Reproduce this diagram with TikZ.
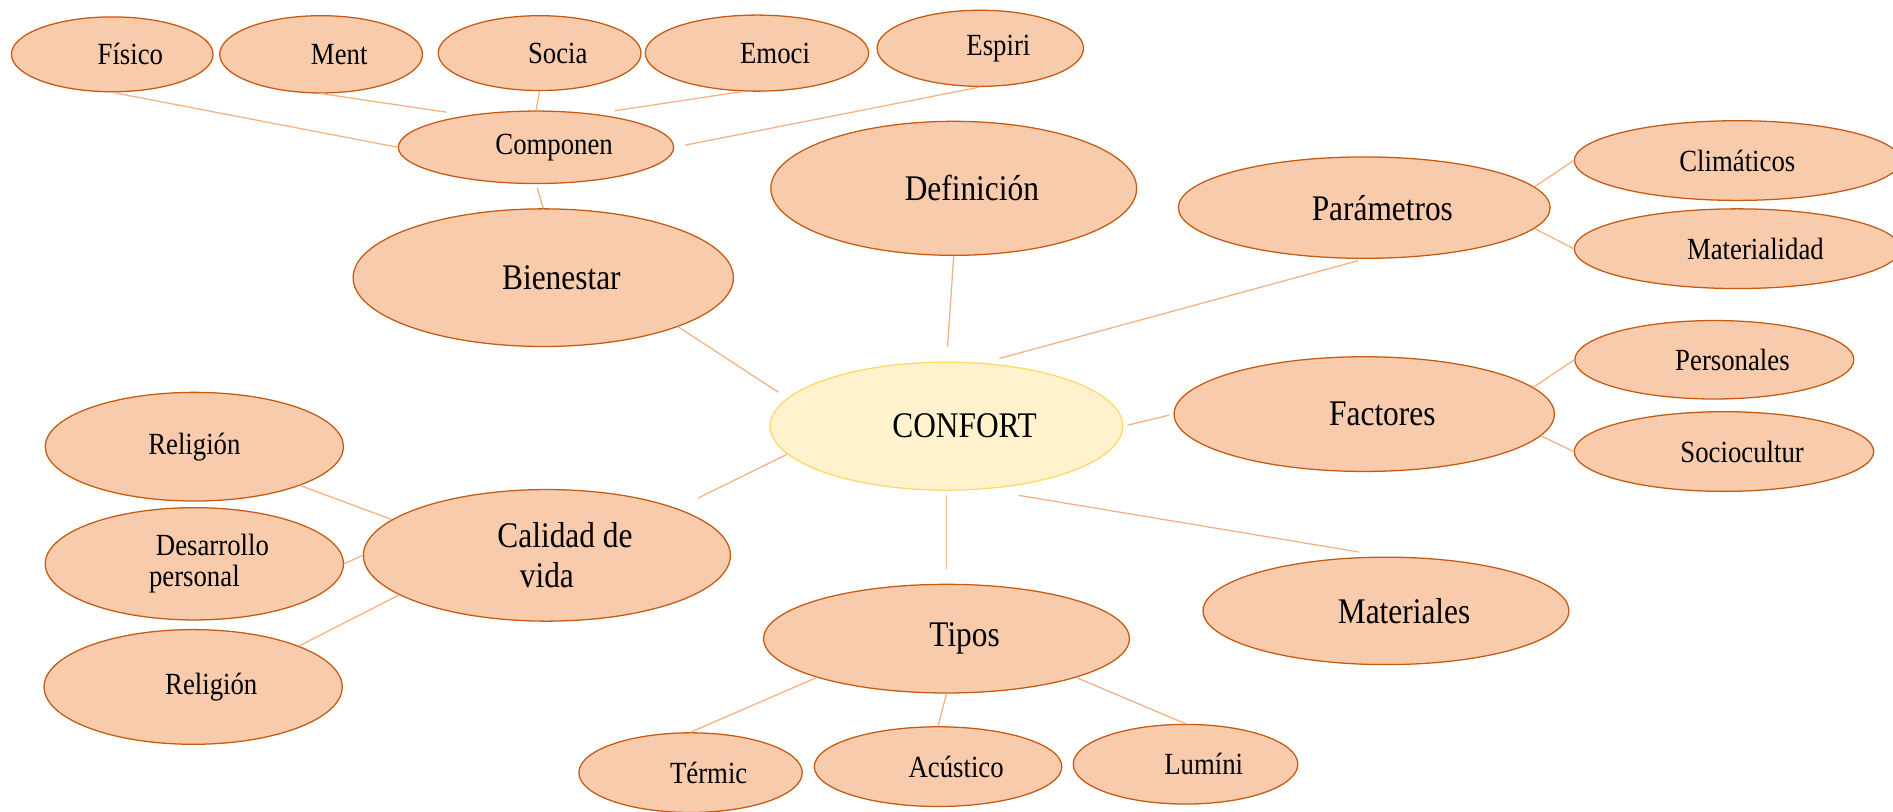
\documentclass[tikz,border=0pt]{standalone}
\usepackage{fontspec}
\setmainfont{Liberation Serif}[FakeStretch=0.87]
\usetikzlibrary{shapes.geometric,positioning}
\definecolor{bubfill}{HTML}{F8CBAD}
\definecolor{bubline}{HTML}{C55A11}
\definecolor{rootfill}{HTML}{FFF2CC}
\definecolor{rootline}{HTML}{FFD966}
\definecolor{linkcol}{HTML}{F4B183}

\begin{document}
\begin{tikzpicture}[x=0.2mm,y=-0.2mm,on grid,
    bub/.style={ellipse,draw=bubline,fill=bubfill,line width=0.6pt,inner sep=0pt,align=center,
      execute at begin node={\hspace*{#1}}},
    bub/.default=6mm,
    bigtxt/.style={font=\fontsize{17}{19}\selectfont},
    smalltxt/.style={font=\fontsize{14.5}{14.5}\selectfont},
    sz/.style 2 args={minimum width=#1mm,minimum height=#2mm},
    link/.style={draw=linkcol,line width=0.6pt}]
\useasboundingbox (0,0) rectangle (1568,672);

% centro y ramas
\node[bub,bigtxt,sz={58.4}{21.2},draw=rootline,fill=rootfill] (conf) at (784,353) {CONFORT};
\node[bub,bigtxt,sz={60.6}{22.2}] (defi) [above right=39.4mm and 1.2mm of conf] {Definición};
\node[bub,bigtxt,sz={63}{22.8}] (bien) [above left=24.6mm and 66.8mm of conf] {Bienestar};
\node[bub,bigtxt,sz={61.6}{16.8}] (param) [above right=36.2mm and 69.2mm of conf] {Parámetros};
\node[bub,bigtxt,sz={63}{19}] (fact) [above right=2mm and 69.2mm of conf] {Factores};
\node[bub,bigtxt,sz={60.6}{17.8}] (mate) [below right=30.6mm and 72.8mm of conf] {Materiales};
\node[bub,bigtxt,sz={60.6}{18}] (tipos) [below=35.2mm of conf] {Tipos};
\node[bub=0mm,bigtxt,sz={60.8}{21.8}] (cali) [below left=21.4mm and 66.2mm of conf] {\hspace*{6mm}Calidad de\\vida};

% componentes
\node[bub,smalltxt,sz={45.6}{12}] (comp) [above left=21.6mm and 1.2mm of bien] {Componen};
\node[bub,smalltxt,sz={33.4}{12.4}] (fis) [above left=15.4mm and 70.2mm of comp] {Físico};
\node[bub,smalltxt,sz={33.6}{12.8}] (ment) [above left=15.4mm and 35.6mm of comp] {Ment};
\node[bub,smalltxt,sz={33.6}{12.4}] (socia) [above right=15.6mm and 0.6mm of comp] {Socia};
\node[bub,smalltxt,sz={37}{12.6}] (emoci) [above right=15.6mm and 36.6mm of comp] {Emoci};
\node[bub,smalltxt,sz={34.2}{12.6}] (espiri) [above right=16.4mm and 73.6mm of comp] {Espiri};

% parametros y factores
\node[bub=0mm,smalltxt,sz={54}{13.2}] (clim) [above right=7.8mm and 61.8mm of param] {Climáticos};
\node[bub,smalltxt,sz={54}{13.2}] (matd) [below right=6.8mm and 61.8mm of param] {Materialidad};
\node[bub,smalltxt,sz={46.2}{13}] (pers) [above right=9mm and 58mm of fact] {Personales};
\node[bub,smalltxt,sz={49.6}{13.2}] (socio) [below right=6.2mm and 59.6mm of fact] {Sociocultur};

% tipos
\node[bub,smalltxt,sz={37}{13.2}] (term) [below left=22.2mm and 42.4mm of tipos] {Térmic};
\node[bub,smalltxt,sz={41}{13.2}] (acus) [below left=21.2mm and 1.4mm of tipos] {Acústico};
\node[bub,smalltxt,sz={37.2}{13.2}] (lumi) [below right=20.8mm and 39.6mm of tipos] {Lumíni};

% calidad de vida
\node[bub=0mm,smalltxt,sz={49.4}{18}] (rel1) [above left=18mm and 58.4mm of cali] {Religión};
\node[bub=0mm,smalltxt,sz={49.4}{18.6}] (desa) [below left=1.4mm and 58.4mm of cali] {\hspace*{6mm}Desarrollo\\personal};
\node[bub,smalltxt,sz={49.4}{19}] (rel2) [below left=21.8mm and 58.6mm of cali] {Religión};

% conectores
\draw[link] (fis.south) -- (comp.west);
\draw[link,shorten >=10pt] (ment.south) -- (comp.155);
\draw[link] (socia.south) -- (comp.north);
\draw[link,shorten >=10pt] (emoci.-110) -- (comp.30);
\draw[link,shorten >=5pt] (espiri.south) -- (comp.east);
\draw[link,shorten <=2pt] (comp.south) -- (bien.north);
\draw[link,shorten >=5pt] (bien.south east) -- (conf.170);
\draw[link,shorten >=7pt] (defi.south) -- (conf.north);
\draw[link,shorten <=3pt,shorten >=8pt] (param.south) -- (conf.60);
\draw[link,shorten <=2pt,shorten >=2pt] (conf.east) -- (fact.west);
\draw[link] (param.7) -- (clim.west);
\draw[link] (param.-7) -- (matd.west);
\draw[link] (fact.9) -- (pers.west);
\draw[link] (fact.-7) -- (socio.west);
\draw[link,shorten <=17pt,shorten >=13pt] (conf.-60) -- (mate.north);
\draw[link,shorten <=2pt,shorten >=7pt] (conf.south) -- (tipos.north);
\draw[link,shorten >=11pt] (conf.190) -- (cali.north east);
\draw[link] (rel1.south east) -- (cali.167);
\draw[link] (desa.east) -- (cali.west);
\draw[link] (cali.195) -- (rel2.north east);
\draw[link] (tipos.south west) -- (term.north);
\draw[link] (tipos.south) -- (acus.north);
\draw[link] (tipos.south east) -- (lumi.north);
\end{tikzpicture}
\end{document}
